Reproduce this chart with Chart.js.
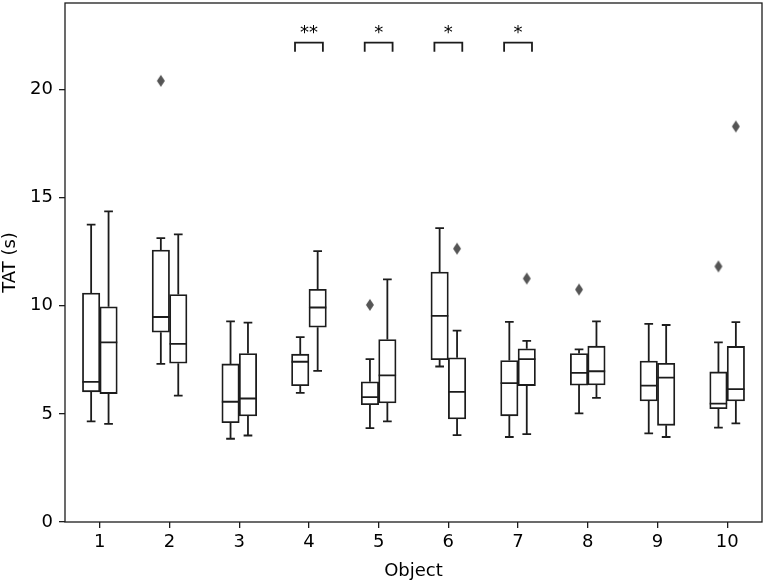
<!DOCTYPE html>
<html>
<head>
<meta charset="utf-8">
<script src="https://cdn.jsdelivr.net/npm/chart.js@4.4.1/dist/chart.umd.min.js"></script>
<style>
  html, body { margin: 0; padding: 0; background: #fff; }
  #wrap { width: 765px; height: 582px; }
</style>
</head>
<body>
<div id="wrap"><canvas id="c" width="765" height="582"></canvas></div>
<script>
// ---- data ----
const categories = ['1','2','3','4','5','6','7','8','9','10'];

const leftMin = [4.65, 7.31, 3.85, 5.97, 4.34, 7.19, 3.93, 5.02, 4.10, 4.36];
const leftQ1  = [6.02, 8.78, 4.59, 6.30, 5.42, 7.51, 4.91, 6.33, 5.60, 5.24];
const leftMed = [6.48, 9.48, 5.56, 7.41, 5.77, 9.53, 6.42, 6.90, 6.31, 5.47];
const leftQ3  = [10.59, 12.58, 7.31, 7.76, 6.48, 11.56, 7.47, 7.79, 7.44, 6.94];
const leftMax = [13.75, 13.13, 9.28, 8.55, 7.53, 13.59, 9.25, 7.98, 9.16, 8.31];

const rightMin = [4.54, 5.84, 4.00, 6.99, 4.65, 4.02, 4.06, 5.74, 3.93, 4.56];
const rightQ1  = [5.94, 7.34, 4.90, 9.01, 5.51, 4.77, 6.31, 6.34, 4.47, 5.60];
const rightMed = [8.31, 8.24, 5.71, 9.92, 6.78, 6.02, 7.53, 6.97, 6.68, 6.14];
const rightQ3  = [9.95, 10.52, 7.79, 10.76, 8.44, 7.59, 8.01, 8.13, 7.34, 8.12];
const rightMax = [14.36, 13.30, 9.22, 12.53, 11.22, 8.85, 8.38, 9.28, 9.11, 9.24];

const leftOutlierObj  = [2, 5, 8, 10];
const leftOutlierVal  = [20.4, 10.04, 10.75, 11.82];
const rightOutlierObj = [6, 7, 10];
const rightOutlierVal = [12.64, 11.26, 18.29];

const sigObj   = [4, 5, 6, 7];
const sigLabel = ['**', '*', '*', '*'];
const sigLevel = 22.17;
const sigLeg   = 21.75;

const yTicks = [0, 5, 10, 15, 20];
const xTitle = 'Object';
const yTitle = 'TAT (s)';

// ---- styles ----
const LINE = '#1c1c1c';
const FONT = "'DejaVu Sans', sans-serif";
const HUE_OFFSET = 0.125;
const LW = 1.8;

function makeDiamond() {
  const cv = document.createElement('canvas');
  cv.width = 10; cv.height = 14;
  const g = cv.getContext('2d');
  g.fillStyle = '#555555';
  g.beginPath();
  g.moveTo(5, 1); g.lineTo(9, 7); g.lineTo(5, 13); g.lineTo(1, 7);
  g.closePath(); g.fill();
  return cv;
}
const diamond = makeDiamond();

const stats = [
  {min: leftMin, q1: leftQ1, med: leftMed, q3: leftQ3, max: leftMax},
  {min: rightMin, q1: rightQ1, med: rightMed, q3: rightQ3, max: rightMax}
];

const boxPlugin = {
  id: 'boxparts',
  afterDatasetsDraw(chart) {
    const ctx = chart.ctx;
    const y = chart.scales.y;
    const x = chart.scales.x;
    ctx.save();
    ctx.strokeStyle = LINE;
    ctx.lineWidth = LW;
    stats.forEach((s, di) => {
      const meta = chart.getDatasetMeta(di);
      meta.data.forEach((bar, i) => {
        const cx = bar.x;
        const hw = bar.width / 2;
        const cap = bar.width / 4;
        const pMin = y.getPixelForValue(s.min[i]);
        const pQ1 = y.getPixelForValue(s.q1[i]);
        const pMed = y.getPixelForValue(s.med[i]);
        const pQ3 = y.getPixelForValue(s.q3[i]);
        const pMax = y.getPixelForValue(s.max[i]);
        ctx.beginPath();
        ctx.moveTo(cx, pQ1); ctx.lineTo(cx, pMin);
        ctx.moveTo(cx, pQ3); ctx.lineTo(cx, pMax);
        ctx.moveTo(cx - cap, pMin); ctx.lineTo(cx + cap, pMin);
        ctx.moveTo(cx - cap, pMax); ctx.lineTo(cx + cap, pMax);
        ctx.moveTo(cx - hw, pMed); ctx.lineTo(cx + hw, pMed);
        ctx.stroke();
      });
    });
    const pLevel = y.getPixelForValue(sigLevel);
    const pLeg = y.getPixelForValue(sigLeg);
    ctx.fillStyle = '#000';
    ctx.font = '18px ' + FONT;
    ctx.textAlign = 'center';
    ctx.textBaseline = 'alphabetic';
    sigObj.forEach((o, k) => {
      const x0 = x.getPixelForValue(o - 0.2);
      const x1 = x.getPixelForValue(o + 0.2);
      ctx.beginPath();
      ctx.moveTo(x0, pLeg); ctx.lineTo(x0, pLevel); ctx.lineTo(x1, pLevel); ctx.lineTo(x1, pLeg);
      ctx.stroke();
      ctx.fillText(sigLabel[k], x.getPixelForValue(o), pLevel - 5);
    });
    const a = chart.chartArea;
    ctx.lineWidth = 1.3;
    ctx.strokeRect(a.left, a.top, a.right - a.left, a.bottom - a.top);
    ctx.restore();
  }
};

const boxStyle = {
  backgroundColor: '#ffffff',
  borderColor: LINE,
  borderWidth: LW,
  borderSkipped: false,
  grouped: false,
  categoryPercentage: 1.0,
  barPercentage: 1.0,
  order: 2
};

const outlierStyle = {
  type: 'scatter',
  pointStyle: diamond,
  pointRadius: 6,
  order: 1
};

new Chart(document.getElementById('c'), {
  type: 'bar',
  data: {
    datasets: [
      Object.assign({label: 'left', data: leftQ1.map((v, i) => ({x: i + 1 - HUE_OFFSET, y: [v, leftQ3[i]]}))}, boxStyle),
      Object.assign({label: 'right', data: rightQ1.map((v, i) => ({x: i + 1 + HUE_OFFSET, y: [v, rightQ3[i]]}))}, boxStyle),
      Object.assign({label: 'left outliers', data: leftOutlierObj.map((o, i) => ({x: o - HUE_OFFSET, y: leftOutlierVal[i]}))}, outlierStyle),
      Object.assign({label: 'right outliers', data: rightOutlierObj.map((o, i) => ({x: o + HUE_OFFSET, y: rightOutlierVal[i]}))}, outlierStyle)
    ]
  },
  options: {
    responsive: false,
    animation: false,
    devicePixelRatio: 1,
    layout: { autoPadding: false, padding: { left: 0, right: 3, top: 3, bottom: 0 } },
    plugins: { legend: { display: false }, tooltip: { enabled: false } },
    scales: {
      x: {
        type: 'linear',
        min: 0.5,
        max: 10.5,
        offset: false,
        grid: { display: true, drawOnChartArea: false, drawTicks: true, tickLength: 6, color: LINE, lineWidth: 1.3, offset: false },
        border: { display: false },
        ticks: { color: '#000', font: { family: FONT, size: 18 }, padding: 4, maxRotation: 0,
                 callback: (v) => categories[Math.round(v) - 1] },
        afterBuildTicks(s) { s.ticks = categories.map((c, i) => ({value: i + 1})); },
        title: { display: true, text: xTitle, color: '#000', font: { family: FONT, size: 18 }, padding: 0 },
        afterFit(s) { s.height = 60; s.paddingLeft = 0; s.paddingRight = 0; }
      },
      y: {
        type: 'linear',
        min: 0,
        max: 24,
        grid: { display: true, drawOnChartArea: false, drawTicks: true, tickLength: 6, color: LINE, lineWidth: 1.3 },
        border: { display: false },
        ticks: { color: '#000', font: { family: FONT, size: 18 }, padding: 6 },
        afterBuildTicks(s) { s.ticks = yTicks.map(v => ({value: v})); },
        title: { display: true, text: yTitle, color: '#000', font: { family: FONT, size: 18 }, padding: 0 },
        afterFit(s) { s.width = 65; s.paddingTop = 0; s.paddingBottom = 0; }
      }
    }
  },
  plugins: [boxPlugin]
});
</script>
</body>
</html>
